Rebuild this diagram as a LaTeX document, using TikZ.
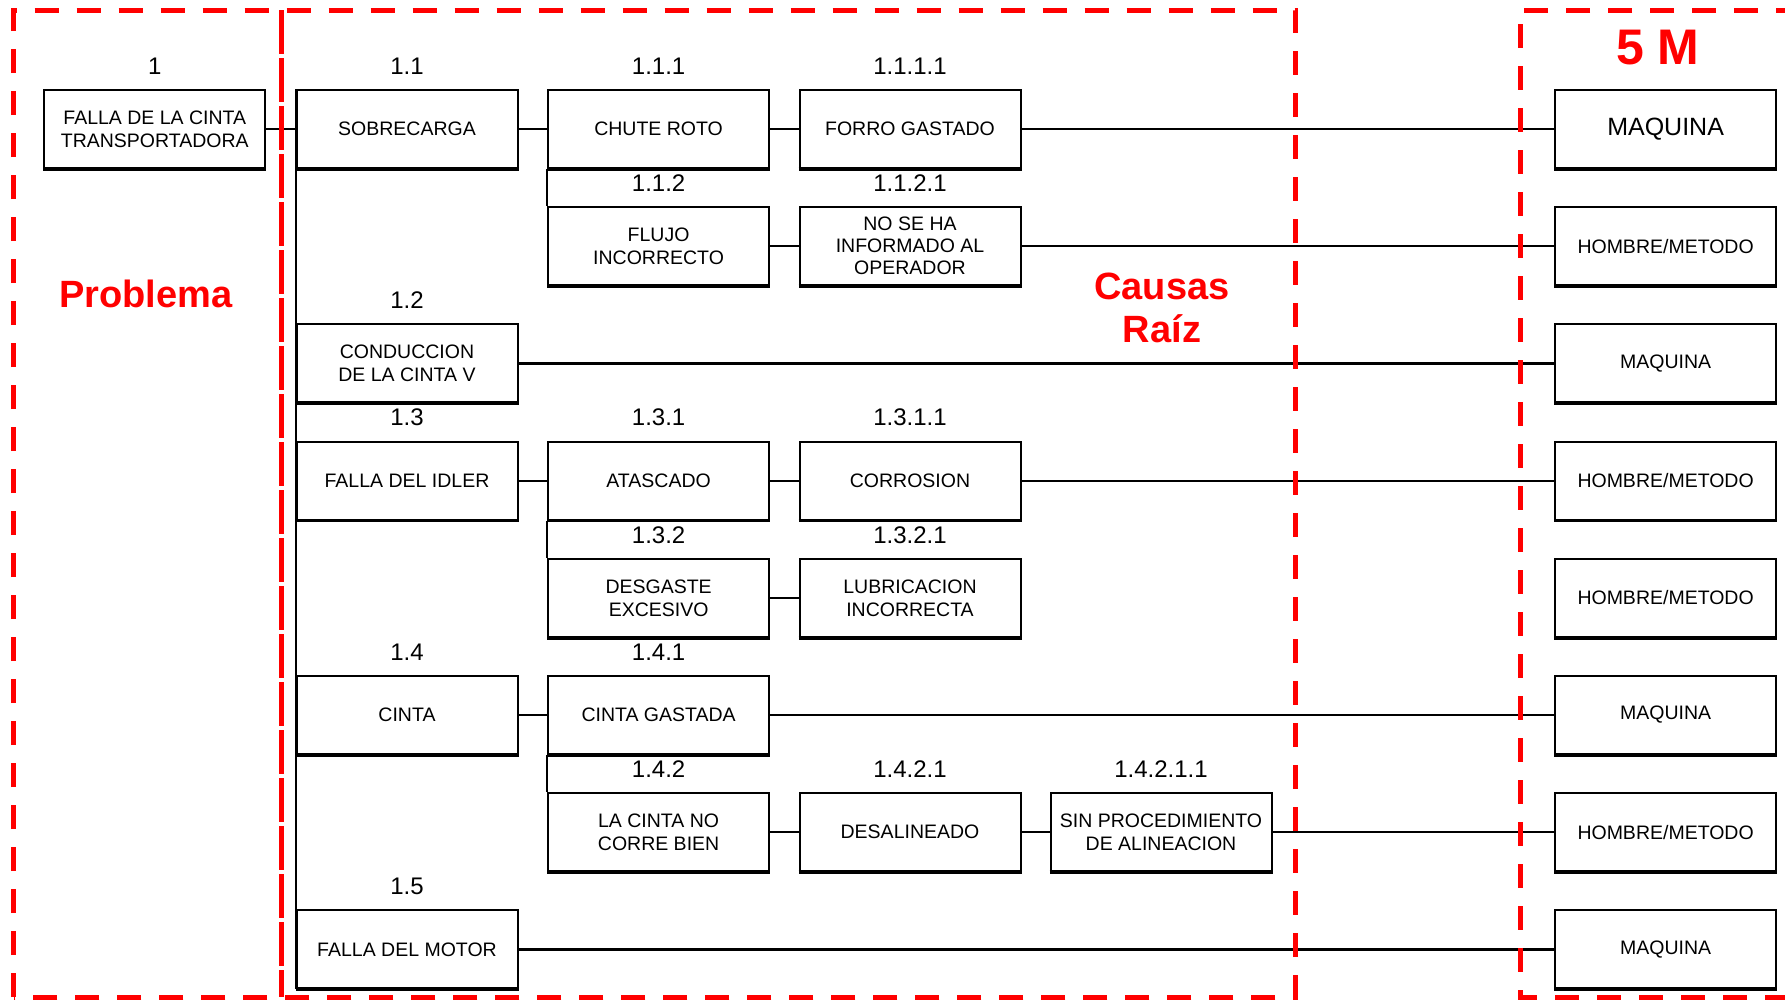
\documentclass[tikz,border=0pt]{standalone}
\usepackage{fontspec}
\setmainfont{Liberation Sans}
\begin{document}
\begin{tikzpicture}[x=1pt,y=-1pt,
  box/.style={draw=black, line width=2pt, minimum width=221pt, minimum height=78pt, inner sep=0pt, align=center, font=\fontsize{19.5}{23}\selectfont},
  bigbox/.style={box, font=\fontsize{25}{29}\selectfont},
  lbl/.style={inner sep=0pt, font=\fontsize{24}{28}\selectfont},
  conn/.style={line width=2pt},
  thickconn/.style={line width=3.5pt},
  reddash/.style={draw=red, line width=5pt, dash pattern=on 24pt off 18pt},
  densedash/.style={draw=red, line width=5pt, dash pattern=on 44pt off 4pt},
  redtitle/.style={text=red, font=\fontsize{38}{43}\bfseries\selectfont, align=center, inner sep=0pt}
]
\useasboundingbox (0,0) rectangle (1785,1001);

% boxes
\node[box] (n1) at (154.8,129) {FALLA DE LA CINTA\\TRANSPORTADORA};
\node[box] (n11) at (407,129) {SOBRECARGA};
\node[box] (n111) at (658.6,129) {CHUTE ROTO};
\node[box] (n1111) at (910,129) {FORRO GASTADO};
\node[bigbox] (m1) at (1665.6,129) {MAQUINA};

\node[box] (n112) at (658.6,246.2) {FLUJO\\INCORRECTO};
\node[box, font=\fontsize{19.5}{22}\selectfont] (n1121) at (910,246.2) {NO SE HA\\INFORMADO AL\\OPERADOR};
\node[box] (m2) at (1665.6,246.2) {HOMBRE/METODO};

\node[box] (n12) at (407,363.4) {CONDUCCION\\DE LA CINTA V};
\node[box] (m3) at (1665.6,363.4) {MAQUINA};

\node[box] (n13) at (407,480.6) {FALLA DEL IDLER};
\node[box] (n131) at (658.6,480.6) {ATASCADO};
\node[box] (n1311) at (910,480.6) {CORROSION};
\node[box] (m4) at (1665.6,480.6) {HOMBRE/METODO};

\node[box] (n132) at (658.6,597.8) {DESGASTE\\EXCESIVO};
\node[box] (n1321) at (910,597.8) {LUBRICACION\\INCORRECTA};
\node[box] (m5) at (1665.6,597.8) {HOMBRE/METODO};

\node[box] (n14) at (407,715) {CINTA};
\node[box] (n141) at (658.6,715) {CINTA GASTADA};
\node[box] (m6) at (1665.6,715) {MAQUINA};

\node[box] (n142) at (658.6,832.2) {LA CINTA NO\\CORRE BIEN};
\node[box] (n1421) at (910,832.2) {DESALINEADO};
\node[box] (n14211) at (1161,832.2) {SIN PROCEDIMIENTO\\DE ALINEACION};
\node[box] (m7) at (1665.6,832.2) {HOMBRE/METODO};

\node[box] (n15) at (407,949.4) {FALLA DEL MOTOR};
\node[box] (m8) at (1665.6,949.4) {MAQUINA};

% thicker bottom edges
\foreach \n in {n1,n11,n111,n1111,m1,n112,n1121,m2,n12,m3,n13,n131,n1311,m4,n132,n1321,m5,n14,n141,m6,n142,n1421,n14211,m7,n15,m8}
  \draw[line width=3.5pt] (\n.south west) -- (\n.south east);

% number labels
\node[lbl] (l1) at (154.8,66) {1};
\node[lbl] (l11) at (407,66) {1.1};
\node[lbl] (l111) at (658.6,66) {1.1.1};
\node[lbl] (l1111) at (910,66) {1.1.1.1};
\node[lbl] (l112) at (658.6,183.2) {1.1.2};
\node[lbl] (l1121) at (910,183.2) {1.1.2.1};
\node[lbl] (l12) at (407,300.4) {1.2};
\node[lbl] (l13) at (407,417.6) {1.3};
\node[lbl] (l131) at (658.6,417.6) {1.3.1};
\node[lbl] (l1311) at (910,417.6) {1.3.1.1};
\node[lbl] (l132) at (658.6,534.8) {1.3.2};
\node[lbl] (l1321) at (910,534.8) {1.3.2.1};
\node[lbl] (l14) at (407,652) {1.4};
\node[lbl] (l141) at (658.6,652) {1.4.1};
\node[lbl] (l142) at (658.6,769.2) {1.4.2};
\node[lbl] (l1421) at (910,769.2) {1.4.2.1};
\node[lbl] (l14211) at (1161,769.2) {1.4.2.1.1};
\node[lbl] (l15) at (407,886.4) {1.5};

% connectors
\draw[conn] (n1.east) -- (n11.west);
\draw[conn] (n11.east) -- (n111.west);
\draw[conn] (n111.east) -- (n1111.west);
\draw[conn] (n1111.east) -- (m1.west);
\draw[conn] (n112.east) -- (n1121.west);
\draw[conn] (n1121.east) -- (m2.west);
\draw[thickconn] (n12.east) -- (m3.west);
\draw[conn] (n13.east) -- (n131.west);
\draw[conn] (n131.east) -- (n1311.west);
\draw[conn] (n1311.east) -- (m4.west);
\draw[conn] (n132.east) -- (n1321.west);
\draw[conn] (n14.east) -- (n141.west);
\draw[conn] (n141.east) -- (m6.west);
\draw[conn] (n142.east) -- (n1421.west);
\draw[conn] (n1421.east) -- (n14211.west);
\draw[conn] (n14211.east) -- (m7.west);
\draw[thickconn] (n15.east) -- (m8.west);
% trunks
\draw[conn] (n11.north west) -- (n15.south west);
\draw[conn] (n111.south west) -- (n112.north west);
\draw[conn] (n131.south west) -- (n132.north west);
\draw[conn] (n141.south west) -- (n142.north west);

% red region frames
\draw[reddash] (13.7,997) -- (13.7,10) -- (1295.5,10) -- (1295.5,997) -- cycle;
\draw[densedash] (281,10) -- (281,997);
\draw[reddash] (1800,10) -- (1520,10) -- (1520,997) -- (1800,997);

% titles
\node[redtitle] (tprob) at (146,294) {Problema};
\node[redtitle] (tcaus) at (1162,308) {Causas\\Raíz};
\node[redtitle, font=\fontsize{50}{55}\bfseries\selectfont] (t5m) at (1658,48) {5 M};
\end{tikzpicture}
\end{document}
